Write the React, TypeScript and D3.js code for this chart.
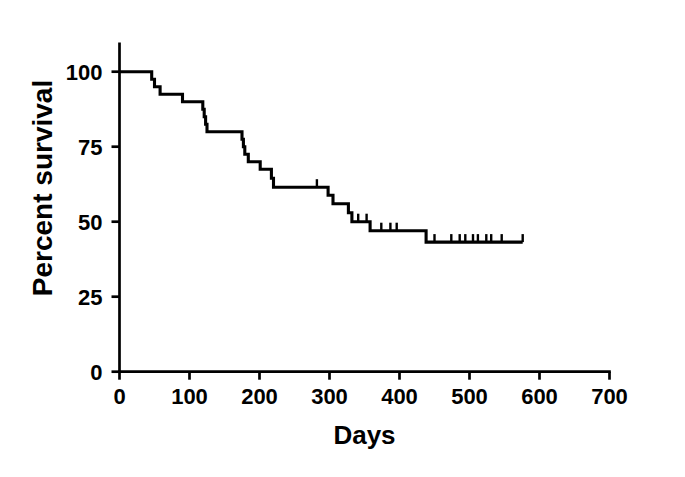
import React from "react";
import * as d3 from "d3";

// Step-change days and survival (%) after each step
const eventDays = [0, 46, 50, 58, 90, 119, 121, 123, 125, 175, 177, 179, 184, 201, 217, 220, 298, 305, 327, 332, 358, 438];
const survival = [100, 97.5, 95, 92.5, 90, 87.5, 85, 82.5, 80, 77.5, 75, 72.5, 70, 67.5, 64.5, 61.5, 58.8, 56, 53, 50, 47, 43.2];
const lastDay = 576;
const censoredDays = [282, 341, 353, 374, 387, 396, 450, 474, 486, 494, 505, 512, 524, 531, 546, 576];
const xTicks = [0, 100, 200, 300, 400, 500, 600, 700];
const yTicks = [0, 25, 50, 75, 100];

const W = 685;
const H = 477;
const FONT = "'Liberation Sans', Arial, Helvetica, sans-serif";

export default function App() {
  const x = d3.scaleLinear().domain([0, 700]).range([119.5, 609.5]);
  const y = d3.scaleLinear().domain([0, 100]).range([371.7, 71.7]);
  const yTop = y(109.7);

  const pts: [number, number][] = eventDays.map((d, i) => [d, survival[i]]);
  pts.push([lastDay, survival[survival.length - 1]]);
  const line = d3
    .line<[number, number]>()
    .x((d) => x(d[0]))
    .y((d) => y(d[1]))
    .curve(d3.curveStepAfter);

  const survAt = (t: number) => {
    let s = survival[0];
    eventDays.forEach((d, i) => {
      if (d <= t) s = survival[i];
    });
    return s;
  };

  return (
    <svg width={W} height={H} style={{ position: "absolute", left: 0, top: 0, background: "#fff" }}>
      <rect width={W} height={H} fill="#fff" />
      {/* Y axis */}
      <line x1={x(0)} x2={x(0)} y1={yTop} y2={y(0) + 1.3} stroke="#000" strokeWidth={2.7} />
      {yTicks.map((t) => (
        <g key={"y" + t}>
          <line x1={x(0) - 8} x2={x(0)} y1={y(t)} y2={y(t)} stroke="#000" strokeWidth={2.7} />
          <text
            x={x(0) - 17}
            y={y(t)}
            dy="0.36em"
            textAnchor="end"
            fontFamily={FONT}
            fontWeight="bold"
            fontSize={22}
            fill="#000"
          >
            {t}
          </text>
        </g>
      ))}
      {/* X axis */}
      <line x1={x(0) - 1.3} x2={x(700) + 1.3} y1={y(0)} y2={y(0)} stroke="#000" strokeWidth={2.7} />
      {xTicks.map((t) => (
        <g key={"x" + t}>
          <line x1={x(t)} x2={x(t)} y1={y(0)} y2={y(0) + 8} stroke="#000" strokeWidth={2.7} />
          <text
            x={x(t)}
            y={y(0) + 32}
            textAnchor="middle"
            fontFamily={FONT}
            fontWeight="bold"
            fontSize={22}
            fill="#000"
          >
            {t}
          </text>
        </g>
      ))}
      {/* Axis titles */}
      <text
        x={(x(0) + x(700)) / 2}
        y={444}
        textAnchor="middle"
        fontFamily={FONT}
        fontWeight="bold"
        fontSize={26}
        fill="#000"
      >
        Days
      </text>
      <text
        transform={`translate(52, 188) rotate(-90)`}
        textAnchor="middle"
        fontFamily={FONT}
        fontWeight="bold"
        fontSize={28}
        fill="#000"
      >
        Percent survival
      </text>
      {/* Survival curve */}
      <path d={line(pts) || ""} fill="none" stroke="#000" strokeWidth={3.1} strokeLinejoin="miter" />
      {censoredDays.map((d, i) => (
        <line
          key={"c" + i}
          x1={x(d)}
          x2={x(d)}
          y1={y(survAt(d))}
          y2={y(survAt(d)) - 8}
          stroke="#000"
          strokeWidth={2.4}
        />
      ))}
    </svg>
  );
}
